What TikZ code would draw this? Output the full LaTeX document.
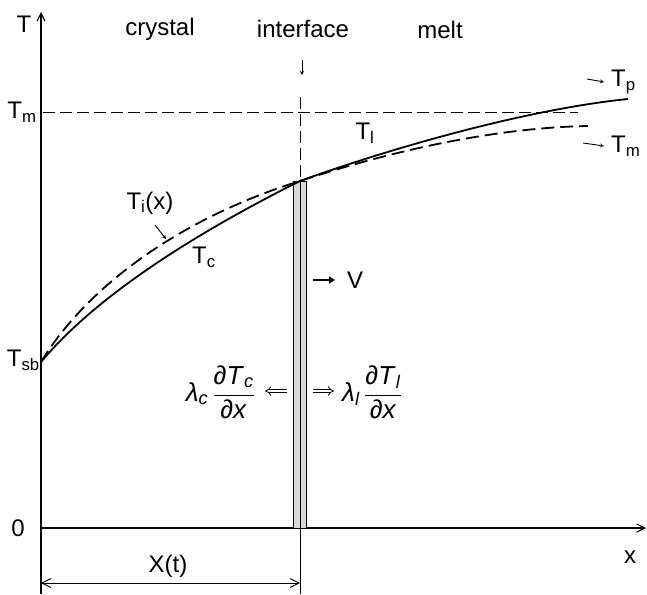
\documentclass[tikz,border=0pt]{standalone}
\usepackage{fontspec}
\setmainfont{Liberation Sans}
\usetikzlibrary{arrows.meta}
\newcommand\sbs[1]{\textsubscript{#1}}
\begin{document}
\begin{tikzpicture}[x=1pt,y=-1pt, font=\fontsize{24}{28}\selectfont,
 lab/.style={inner sep=0pt},
 fluxlab/.style={inner sep=0pt, font=\fontsize{26}{30}\selectfont},
 axisline/.style={line width=1.1pt,-{Straight Barb[length=8pt,width=8pt]}},
 curve/.style={line width=1.8pt},
 dashcurve/.style={line width=1.8pt, dash pattern=on 13pt off 6pt},
 guide/.style={line width=1pt, dash pattern=on 12pt off 5pt},
 smallarrow/.style={line width=0.9pt,-{Stealth[length=4pt,width=4pt]}},
 dbl/.style={double, double distance=2.4pt, line width=0.8pt, -{Implies[length=5pt]}},
]
\useasboundingbox (0,0) rectangle (647,594);
% coordinates
\coordinate (O) at (41,528);
\coordinate (Ttop) at (41,12);
\coordinate (Tbot) at (41,594);
\coordinate (Xend) at (646,528);
\coordinate (Itop) at (300,181);
\coordinate (Ibot) at (300,594);
\coordinate (Idash) at (300,97);
\coordinate (TmL) at (43,112);
\coordinate (TmR) at (578,112);
\coordinate (Tsb) at (41,362);
\coordinate (Pend) at (628,99);
\coordinate (Dend) at (588,126);
% axes
\draw[axisline] (Tbot) -- (Ttop);
\draw[axisline] (O) -- (Xend);
% interface band
\filldraw[fill=gray!30, line width=0.7pt] (293,181) rectangle (306,528);
\draw[line width=1pt] (Itop) -- (Ibot);
\draw[guide] (Idash) -- (Itop);
\draw[guide] (TmL) -- (TmR);
% curves
\draw[curve] (Tsb) .. controls (101,290) and (210,226) .. (Itop)
  .. controls (380,152) and (520,110) .. (Pend);
\draw[dashcurve] (Tsb) .. controls (91,280) and (190,215) .. (Itop)
  .. controls (370,158) and (480,128) .. (Dend);
% labels
\node[lab] (T) at (24,24) {T};
\node[lab] (cry) at (160,29) {crystal};
\node[lab] (int) at (303,29) {interface};
\node[lab] (melt) at (440,30) {melt};
\coordinate (ia1) at (302,60);
\coordinate (ia2) at (302,75);
\draw[smallarrow] (ia1) -- (ia2);
\node[lab] (Tm) at (22,112) {T\sbs{m}};
\node[lab] (Ti) at (150,203) {T\sbs{i}(x)};
\coordinate (ti1) at (155,225);
\coordinate (ti2) at (166,239);
\draw[smallarrow] (ti1) -- (ti2);
\node[lab] (Tc) at (204,257) {T\sbs{c}};
\node[lab] (Tl) at (365,133) {T\sbs{l}};
\node[lab,anchor=west] (Tp) at (611,82) {T\sbs{p}};
\coordinate (tp1) at (587,79);
\draw[smallarrow] (tp1) -- ([xshift=-7pt]Tp.west);
\node[lab,anchor=west] (Tm2) at (611,146) {T\sbs{m}};
\coordinate (tm1) at (583,143);
\draw[smallarrow] (tm1) -- ([xshift=-7pt]Tm2.west);
\node[lab,anchor=west] (V) at (347,280) {V};
\coordinate (v1) at (313,280);
\draw[line width=2.2pt,-{Triangle[length=6pt,width=7pt]}] (v1) -- ([xshift=-12pt]V.west);
\node[lab,anchor=east] (Tsbl) at (40,360) {T\sbs{sb}};
\node[lab] (zero) at (18,528) {0};
\node[lab] (x) at (630,557) {x};
\node[lab] (Xt) at (168,566) {X(t)};
\coordinate (dl) at (41,583);
\coordinate (dr) at (300,583);
\draw[line width=0.9pt,{Straight Barb[length=9pt,width=9pt]}-{Straight Barb[length=9pt,width=9pt]}] (dl) -- (dr);
% fluxes
\node[fluxlab,anchor=east] (lc) at (255,392) {\textit{λ}\sbs{\textit{c}}\,$\displaystyle\frac{\hbox{∂\textit{T}\sbs{\textit{c}}}}{\hbox{∂\textit{x}}}$};
\node[fluxlab,anchor=west] (ll) at (342,392) {\textit{λ}\sbs{\textit{l}}\,$\displaystyle\frac{\hbox{∂\textit{T}\sbs{\textit{l}}}}{\hbox{∂\textit{x}}}$};
\coordinate (lcA) at (287,391);
\coordinate (lcB) at (265,391);
\coordinate (llA) at (313,391);
\coordinate (llB) at (334,391);
\draw[dbl] (lcA) -- (lcB);
\draw[dbl] (llA) -- (llB);
\end{tikzpicture}
\end{document}
